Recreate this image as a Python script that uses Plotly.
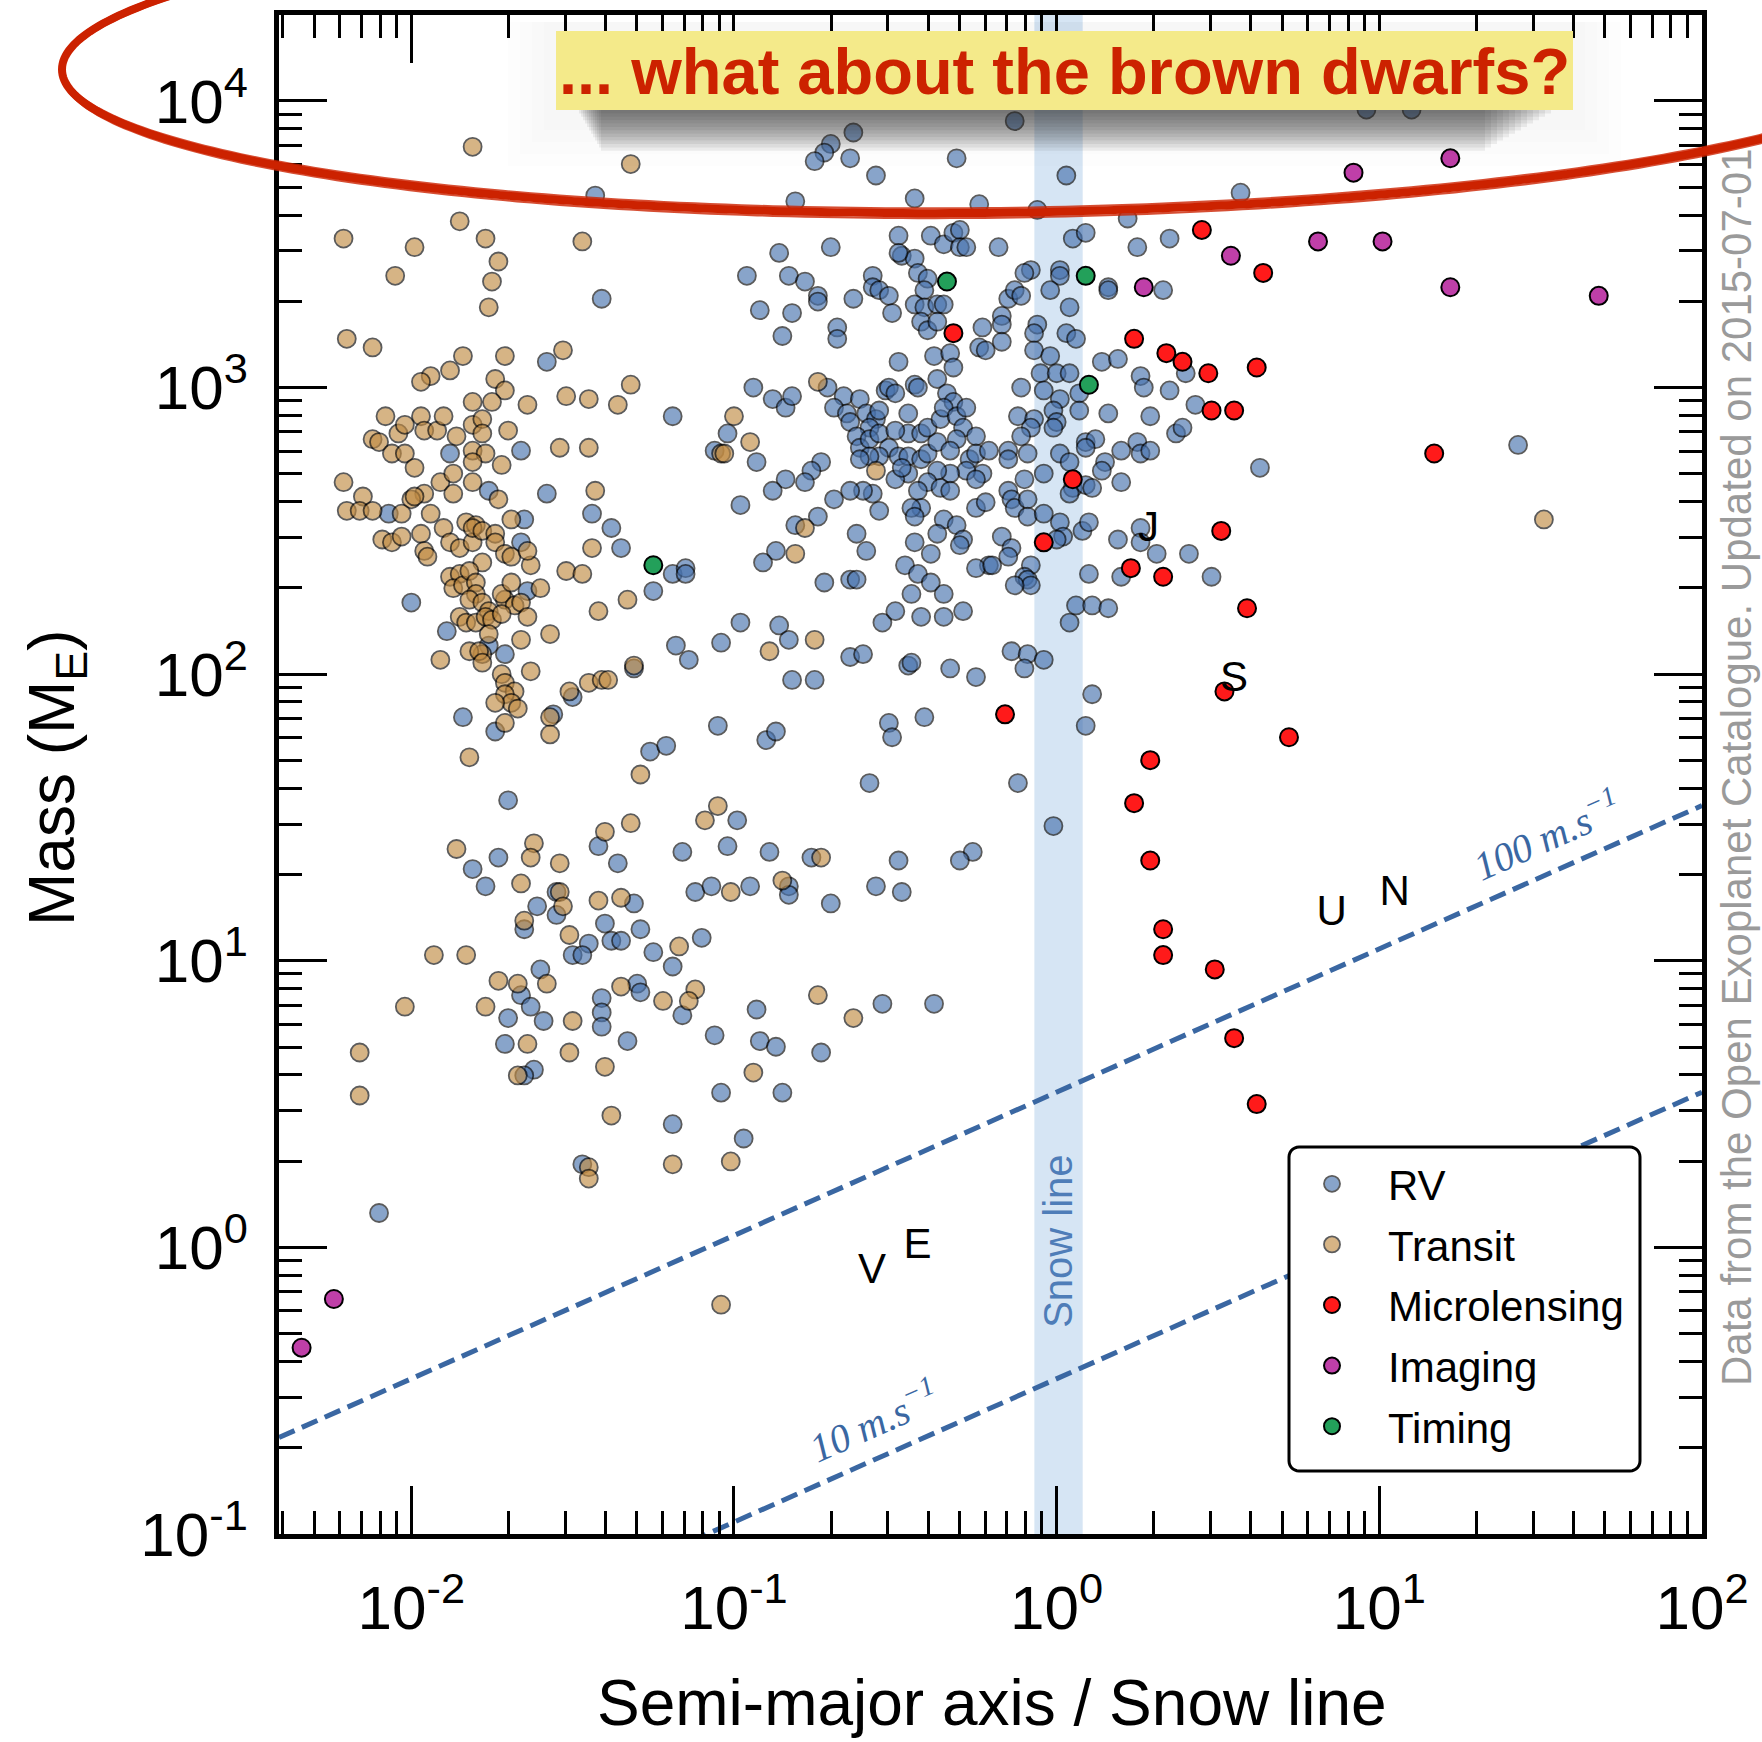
import numpy as np
import plotly.graph_objects as go

# ---------------------------------------------------------------------------
# Detected planets, one tuple per planet:
# (log10 of semi-major axis / snow line, log10 of mass in Earth masses)
# ---------------------------------------------------------------------------
rv_points = [
    (-1.43, 3.67), (-1.41, 3.31), (-1.58, 3.09), (-1.19, 2.90), (-1.66, 2.78), (-1.88, 2.77),
    (-1.06, 2.78), (-1.58, 2.63), (-1.44, 2.56), (-1.76, 2.64),
    (-1.66, 2.46), (-1.65, 2.54), (-1.64, 2.29), (-1.76, 2.10), (-1.71, 2.07), (-1.89, 2.15),
    (-1.84, 1.85), (-1.74, 1.80), (-1.56, 1.86), (-1.50, 1.92), (-2.00, 2.25), (-2.07, 2.56),
    (-1.38, 2.51), (-1.35, 2.44), (-1.19, 2.35), (-1.15, 2.37), (-1.15, 2.35), (-1.25, 2.29),
    (-0.54, 2.18), (-0.42, 2.20), (-0.35, 2.20), (-0.29, 2.22), (-0.50, 2.22), (-0.86, 2.17),
    (-0.83, 2.12), (-0.98, 2.18), (-1.04, 2.11), (-1.18, 2.10), (-1.14, 2.05), (-1.31, 2.02),
    (-0.64, 2.06), (-0.60, 2.07), (-0.46, 2.03), (-0.45, 2.04), (-0.33, 2.02), (-0.25, 1.99),
    (-0.82, 1.98), (-0.75, 1.98), (-1.05, 1.82), (-0.90, 1.77), (-0.87, 1.80), (-1.26, 1.73),
    (-1.21, 1.75), (-0.52, 1.83), (-0.51, 1.78), (-0.41, 1.85),
    (-1.70, 1.56), (-0.58, 1.62), (-0.99, 1.49), (-1.81, 1.32), (-1.77, 1.26), (-1.73, 1.36),
    (-1.42, 1.40), (-1.36, 1.34), (-1.16, 1.38), (-1.02, 1.40), (-0.89, 1.38), (-0.76, 1.36),
    (-0.49, 1.35), (-1.12, 1.24), (-1.07, 1.26), (-0.95, 1.26), (-0.83, 1.26), (-0.83, 1.23),
    (-0.70, 1.20), (-0.56, 1.26), (-0.48, 1.24), (-1.55, 1.24), (-1.61, 1.19), (-1.55, 1.16),
    (-1.65, 1.11), (-1.31, 1.20), (-1.40, 1.13), (-1.38, 1.07), (-1.35, 1.07), (-1.29, 1.11),
    (-1.45, 1.06), (-1.50, 1.02), (-1.47, 1.02), (-1.25, 1.03), (-1.10, 1.08), (-1.19, 0.98),
    (-1.60, 0.97), (-1.66, 0.88), (-1.63, 0.84), (-1.70, 0.80), (-1.59, 0.79), (-1.41, 0.87),
    (-1.41, 0.82), (-1.41, 0.77), (-1.30, 0.92), (-1.29, 0.89), (-1.16, 0.81), (-1.33, 0.72),
    (-1.06, 0.74), (-0.54, 0.85), (-0.93, 0.83), (-0.92, 0.72), (-0.87, 0.70), (-0.73, 0.68),
    (-1.04, 0.54), (-0.85, 0.54), (-1.71, 0.71), (-1.62, 0.62), (-1.65, 0.60), (-1.19, 0.43),
    (-0.97, 0.38), (-1.47, 0.29),
    (-0.26, 1.38), (-0.30, 1.35), (-0.38, 0.85), (-0.01, 1.47), (-0.12, 1.62), (-2.10, 0.12),
    (-0.14, 2.08), (-0.09, 2.07), (-0.10, 2.02), (-0.04, 2.05), (0.04, 2.18), (0.11, 1.93),
    (0.09, 1.82), (0.06, 2.24), (0.11, 2.24), (0.16, 2.23), (0.96, 3.97), (1.10, 3.97),
    (-0.63, 3.89), (-0.70, 3.85), (-0.72, 3.82), (-0.75, 3.79), (-0.64, 3.80), (-0.56, 3.74),
    (-0.31, 3.80), (0.03, 3.74), (-0.13, 3.93),
    (-0.81, 3.65), (-0.44, 3.66), (-0.24, 3.64), (-0.06, 3.62), (0.22, 3.59),
    (-0.49, 3.53), (-0.39, 3.53), (-0.35, 3.50), (-0.32, 3.54), (-0.30, 3.55), (-0.30, 3.49),
    (-0.28, 3.49), (-0.18, 3.49), (0.05, 3.52), (0.09, 3.54), (0.25, 3.49), (0.35, 3.52),
    (-0.70, 3.49), (-0.86, 3.47), (-0.48, 3.46), (-0.44, 3.45), (-0.49, 3.47),
    (-0.96, 3.39), (-0.83, 3.39), (-0.78, 3.37), (-0.74, 3.32), (-0.74, 3.30),
    (-0.57, 3.39), (-0.57, 3.35), (-0.55, 3.34), (-0.52, 3.32), (-0.51, 3.26), (-0.63, 3.31),
    (-0.43, 3.40), (-0.40, 3.38), (-0.41, 3.34),
    (-0.44, 3.29), (-0.41, 3.28), (-0.37, 3.29), (-0.35, 3.29), (-0.42, 3.23), (-0.40, 3.20),
    (-0.37, 3.23), (-0.92, 3.27), (-0.82, 3.26), (-0.85, 3.18), (-0.68, 3.21), (-0.68, 3.17),
    (-0.49, 3.09), (-0.38, 3.11), (-0.33, 3.12), (-0.32, 3.07),
    (-0.23, 3.21), (-0.17, 3.25), (-0.17, 3.22), (-0.15, 3.31), (-0.13, 3.34), (-0.11, 3.32),
    (-0.08, 3.41), (-0.10, 3.40), (-0.24, 3.14), (-0.17, 3.16), (-0.22, 3.13),
    (0.01, 3.41), (0.01, 3.39), (-0.02, 3.34), (0.04, 3.28), (0.16, 3.35), (0.16, 3.34),
    (0.33, 3.34), (-0.06, 3.22), (-0.07, 3.19), (0.03, 3.19), (0.06, 3.17), (-0.07, 3.13),
    (-0.02, 3.11),
    (0.14, 3.09), (0.19, 3.10), (0.26, 3.04), (0.27, 3.00), (0.35, 2.99), (0.40, 3.05),
    (0.43, 2.94), (0.37, 2.84), (0.39, 2.86), (0.29, 2.90), (0.16, 2.91), (0.25, 2.81),
    (0.26, 2.77), (0.29, 2.78), (0.20, 2.78),
    (-0.05, 3.05), (0.00, 3.05), (0.04, 3.05), (-0.04, 2.99), (-0.11, 3.00), (0.07, 2.98),
    (0.01, 2.96), (-0.01, 2.92), (0.00, 2.88), (-0.01, 2.86), (0.07, 2.92), (-0.12, 2.90),
    (-0.07, 2.89), (-0.08, 2.86), (-0.11, 2.83), (0.09, 2.81), (0.12, 2.82), (0.09, 2.79),
    (-0.09, 2.77), (-0.15, 2.78), (-0.15, 2.75), (0.01, 2.77), (0.04, 2.74), (0.15, 2.74),
    (0.14, 2.71), (0.05, 2.65), (0.09, 2.66), (0.04, 2.63), (0.11, 2.65), (0.20, 2.67),
    (-0.04, 2.70), (-0.10, 2.68), (-0.15, 2.64), (-0.14, 2.61), (-0.13, 2.58), (-0.09, 2.61),
    (-0.09, 2.55), (-0.04, 2.56), (0.01, 2.53), (0.08, 2.50), (0.10, 2.53), (0.02, 2.48),
    (0.00, 2.47),
    (0.19, 2.47), (0.26, 2.51), (0.26, 2.46), (0.31, 2.42), (0.41, 2.42), (0.10, 2.35),
    (0.20, 2.34),
    (-0.17, 2.48), (-0.14, 2.44), (-0.15, 2.41), (-0.08, 2.38), (-0.10, 2.34), (-0.09, 2.33),
    (-0.08, 2.31), (-0.13, 2.31), (-0.21, 2.38), (-0.25, 2.37),
    (-0.94, 3.00), (-0.88, 2.96), (-0.84, 2.93), (-0.82, 2.97), (-0.93, 2.74), (-0.98, 2.59),
    (-1.02, 2.84),
    (-0.71, 3.00), (-0.66, 2.97), (-0.69, 2.93), (-0.65, 2.91), (-0.64, 2.88), (-0.61, 2.96),
    (-0.59, 2.91), (-0.56, 2.89), (-0.55, 2.92), (-0.58, 2.86), (-0.62, 2.83), (-0.61, 2.79),
    (-0.58, 2.82), (-0.55, 2.84), (-0.53, 2.99), (-0.52, 3.00), (-0.50, 2.98), (-0.46, 2.91),
    (-0.46, 2.84), (-0.50, 2.85), (-0.52, 2.79), (-0.55, 2.76), (-0.58, 2.76), (-0.61, 2.75),
    (-0.49, 2.76), (-0.46, 2.76), (-0.42, 2.75), (-0.40, 2.77), (-0.37, 2.81), (-0.42, 2.84),
    (-0.40, 2.86), (-0.36, 2.89), (-0.44, 3.01), (-0.43, 3.00), (-0.37, 3.03), (-0.34, 2.98),
    (-0.32, 2.95), (-0.35, 2.93), (-0.31, 2.90), (-0.28, 2.93), (-0.29, 2.86), (-0.25, 2.83),
    (-0.31, 2.82), (-0.33, 2.78), (-0.27, 2.75), (-0.25, 2.77), (-0.21, 2.78), (-0.23, 2.70),
    (-0.28, 2.71), (-0.33, 2.70), (-0.37, 2.71), (-0.40, 2.67), (-0.46, 2.70), (-0.50, 2.68),
    (-0.48, 2.72), (-0.57, 2.63), (-0.60, 2.64), (-0.64, 2.64), (-0.69, 2.61), (-0.73, 2.74),
    (-0.76, 2.71), (-0.78, 2.67), (-0.84, 2.68), (-0.88, 2.64), (-0.74, 2.55), (-0.81, 2.52),
    (-0.87, 2.43), (-0.91, 2.39), (-0.72, 2.32), (-0.62, 2.49), (-0.59, 2.43), (-0.64, 2.33),
    (-0.62, 2.33), (-0.55, 2.57), (-0.43, 2.64), (-0.42, 2.58), (-0.45, 2.58), (-0.44, 2.55),
    (-0.36, 2.65), (-0.33, 2.64), (-0.25, 2.58), (-0.22, 2.60), (-0.25, 2.68), (-0.35, 2.54),
    (-0.31, 2.52), (-0.37, 2.49), (-0.29, 2.47), (-0.30, 2.45), (-0.39, 2.42), (-0.44, 2.46),
    (-0.47, 2.38), (-0.43, 2.35), (-0.39, 2.32), (-0.45, 2.28), (-0.35, 2.28), (-0.20, 2.38),
    (0.57, 3.68), (0.63, 2.72), (1.43, 2.80), (0.48, 2.34),
]

transit_points = [
    (-1.81, 3.84), (-1.32, 3.78), (-2.21, 3.52), (-1.99, 3.49), (-1.85, 3.58), (-1.77, 3.52),
    (-1.73, 3.44), (-1.75, 3.37), (-1.76, 3.28), (-2.05, 3.39), (-1.47, 3.51),
    (-2.20, 3.17), (-2.12, 3.14), (-1.84, 3.11), (-1.71, 3.11), (-1.53, 3.13), (-1.88, 3.06),
    (-1.94, 3.04), (-1.97, 3.02), (-1.74, 3.03), (-1.71, 2.99), (-1.81, 2.95), (-1.75, 2.95),
    (-1.64, 2.94), (-1.52, 2.97), (-1.45, 2.96), (-1.36, 2.94), (-1.32, 3.01), (-1.54, 2.79),
    (-1.45, 2.79), (-1.04, 2.77), (-1.43, 2.64),
    (-2.08, 2.90), (-2.12, 2.82), (-2.10, 2.81), (-2.06, 2.77), (-2.04, 2.84), (-2.02, 2.87),
    (-1.97, 2.90), (-1.96, 2.85), (-1.92, 2.85), (-1.90, 2.90), (-1.86, 2.83), (-1.81, 2.87),
    (-1.78, 2.89), (-1.78, 2.84), (-1.81, 2.78), (-1.77, 2.77), (-1.72, 2.73), (-1.81, 2.74),
    (-1.70, 2.85), (-2.02, 2.77), (-1.99, 2.72), (-2.21, 2.67), (-2.15, 2.62), (-1.91, 2.67),
    (-1.87, 2.70), (-1.81, 2.67), (-1.87, 2.63), (-1.96, 2.63), (-2.00, 2.61), (-2.20, 2.57),
    (-1.73, 2.61),
    (-2.16, 2.57), (-2.12, 2.57), (-2.03, 2.56), (-1.99, 2.62), (-1.94, 2.56), (-1.83, 2.53),
    (-1.80, 2.52),
    (-2.09, 2.47), (-2.06, 2.46), (-2.03, 2.48), (-1.97, 2.49), (-1.96, 2.43), (-1.95, 2.41),
    (-1.90, 2.51), (-1.88, 2.46), (-1.85, 2.44), (-1.81, 2.46), (-1.81, 2.51), (-1.78, 2.50),
    (-1.74, 2.49), (-1.74, 2.46), (-1.71, 2.42), (-1.69, 2.41), (-1.78, 2.39), (-1.63, 2.38),
    (-1.64, 2.43), (-1.69, 2.54), (-1.88, 2.34), (-1.85, 2.35), (-1.87, 2.30), (-1.84, 2.31),
    (-1.82, 2.36), (-1.80, 2.32), (-1.80, 2.28), (-1.82, 2.26), (-1.78, 2.25), (-1.76, 2.22),
    (-1.71, 2.26), (-1.72, 2.28), (-1.69, 2.32), (-1.68, 2.24), (-1.66, 2.25), (-1.64, 2.20),
    (-1.60, 2.30), (-1.85, 2.20), (-1.83, 2.18), (-1.80, 2.18), (-1.77, 2.20), (-1.75, 2.19),
    (-1.72, 2.21), (-1.76, 2.14), (-1.78, 2.07), (-1.82, 2.08), (-1.79, 2.08), (-1.66, 2.12),
    (-1.57, 2.14), (-1.91, 2.05), (-1.78, 2.04), (-1.72, 2.00), (-1.71, 1.97), (-1.68, 1.94),
    (-1.71, 1.93), (-1.69, 1.90), (-1.74, 1.90), (-1.67, 1.88), (-1.71, 1.83), (-1.63, 2.01),
    (-1.82, 1.71), (-1.57, 1.85), (-1.57, 1.79), (-1.51, 1.94), (-1.45, 1.97), (-1.44, 2.44),
    (-1.52, 2.36), (-1.47, 2.35), (-1.42, 2.22), (-1.41, 1.98),
    (-1.33, 2.26), (-0.75, 2.12), (-0.89, 2.08), (-1.31, 2.03), (-1.39, 1.98),
    (-0.74, 3.02), (-1.00, 2.90), (-0.95, 2.81), (-1.03, 2.77), (-0.56, 2.71), (-0.78, 2.51),
    (-0.81, 2.42), (1.51, 2.54),
    (-1.29, 1.65), (-1.05, 1.54), (-1.09, 1.49), (-1.86, 1.39), (-1.62, 1.41), (-1.63, 1.36),
    (-1.66, 1.27), (-1.54, 1.34), (-1.40, 1.45), (-1.32, 1.48), (-0.73, 1.36), (-1.01, 1.24),
    (-0.85, 1.28), (-1.54, 1.24), (-1.53, 1.19), (-1.65, 1.14), (-1.42, 1.21), (-1.35, 1.22),
    (-1.51, 1.09), (-1.17, 1.05), (-1.93, 1.02), (-1.83, 1.02), (-2.02, 0.84), (-1.73, 0.93),
    (-1.67, 0.92), (-1.58, 0.92), (-1.77, 0.84), (-1.50, 0.79), (-1.35, 0.91), (-1.22, 0.86),
    (-1.12, 0.90), (-1.14, 0.86), (-0.74, 0.88), (-0.63, 0.80), (-0.94, 0.61), (-1.64, 0.71),
    (-1.51, 0.68), (-1.40, 0.63), (-1.67, 0.60), (-1.38, 0.46), (-1.19, 0.29), (-1.01, 0.30),
    (-1.45, 0.28), (-1.45, 0.24),
    (-2.16, 0.68), (-2.16, 0.53), (-1.04, -0.20),
]

microlensing_points = [
    (-0.32, 3.19), (0.05, 2.68), (-0.04, 2.46), (0.24, 3.17), (0.34, 3.12), (0.39, 3.09),
    (0.47, 3.05), (0.48, 2.92), (0.55, 2.92), (0.62, 3.07), (0.45, 3.55), (0.64, 3.40),
    (1.17, 2.77), (0.51, 2.50), (0.23, 2.37), (0.33, 2.34), (0.59, 2.23), (-0.16, 1.86),
    (0.52, 1.94), (0.72, 1.78), (0.29, 1.70), (0.24, 1.55), (0.29, 1.35), (0.33, 1.11),
    (0.33, 1.02), (0.49, 0.97), (0.55, 0.73), (0.62, 0.50),
]

imaging_points = [
    (-2.34, -0.35), (-2.24, -0.18), (0.27, 3.35), (0.54, 3.46), (0.81, 3.51), (1.01, 3.51),
    (0.92, 3.75), (1.22, 3.80), (1.22, 3.35), (1.68, 3.32),
]

timing_points = [(-0.34, 3.37), (0.09, 3.39), (0.10, 3.01), (-1.25, 2.38)]

# Solar-system planets (a in AU, mass in Earth masses)
planet_labels = ["V", "E", "J", "S", "U", "N"]
planet_a_au = [0.723, 1.0, 5.20, 9.58, 19.2, 30.1]
planet_mass_earth = [0.815, 1.0, 317.8, 95.2, 14.5, 17.1]
snow_line_au = 2.7

# Radial-velocity semi-amplitude limits, M = k * K * sqrt(a / a_snow)
rv_amplitudes_ms = [10, 100]
rv_mass_per_ms_at_snow_line = 0.0348
rv_label_a = [0.27, 33.0]

snow_band = [0.853, 1.204]

x_tick_vals = [0.01, 0.1, 1, 10, 100]
x_tick_text = ["10<sup>-2</sup>", "10<sup>-1</sup>", "10<sup>0</sup>", "10<sup>1</sup>", "10<sup>2</sup>"]
y_tick_vals = [0.1, 1, 10, 100, 1000, 10000]
y_tick_text = ["10<sup>-1</sup>", "10<sup>0</sup>", "10<sup>1</sup>", "10<sup>2</sup>",
               "10<sup>3</sup>", "10<sup>4</sup>"]

# ---------------------------------------------------------------------------
# Layout geometry (pixels)
# ---------------------------------------------------------------------------
FIG_W, FIG_H = 1762, 1742
M_L, M_R, M_T, M_B = 279, 60, 15, 208
PLOT_W = FIG_W - M_L - M_R
PLOT_H = FIG_H - M_T - M_B
X_RANGE = [np.log10(0.00389), 2.0]
Y_RANGE = [-1.0, 4.3]
FONT = "Liberation Sans, Arial, Helvetica, sans-serif"


def to_paper(px, py):
    px = np.asarray(px, dtype=float)
    py = np.asarray(py, dtype=float)
    return (px - M_L) / PLOT_W, (FIG_H - M_B - py) / PLOT_H


def path_from_pixels(px, py, close=True):
    xs, ys = to_paper(px, py)
    pts = " L ".join(f"{x:.5f},{y:.5f}" for x, y in zip(xs, ys))
    return "M " + pts + (" Z" if close else "")


def rounded_rect(x0, y0, x1, y1, r, n=8):
    px, py = [], []
    corners = [(x1 - r, y0 + r, -90, 0), (x1 - r, y1 - r, 0, 90),
               (x0 + r, y1 - r, 90, 180), (x0 + r, y0 + r, 180, 270)]
    for cx, cy, a0, a1 in corners:
        ang = np.radians(np.linspace(a0, a1, n))
        px.extend(cx + r * np.cos(ang))
        py.extend(cy + r * np.sin(ang))
    return path_from_pixels(px, py)


def unpack(points):
    lx, ly = zip(*points)
    return 10 ** np.array(lx), 10 ** np.array(ly)


def centered(**kw):
    base = dict(showarrow=False, xanchor="center", yanchor="middle")
    base.update(kw)
    return base


fig = go.Figure()

methods = [
    ("RV", rv_points, "#4671ad", 0.64, 1.8),
    ("Transit", transit_points, "#c08a42", 0.64, 1.8),
    ("Microlensing", microlensing_points, "#ff1a1a", 1.0, 2.0),
    ("Imaging", imaging_points, "#bf3fa8", 1.0, 2.0),
    ("Timing", timing_points, "#23a05a", 1.0, 2.0),
]
for name, pts, color, alpha, lw in methods:
    x, y = unpack(pts)
    fig.add_trace(go.Scatter(
        x=x, y=y, mode="markers", name=name, legendgroup=name,
        marker=dict(size=18, color=color, opacity=alpha,
                    line=dict(color="black", width=lw)),
    ))

# RV sensitivity lines
a_line = np.array([10 ** X_RANGE[0], 10 ** X_RANGE[1]])
for K in rv_amplitudes_ms:
    fig.add_trace(go.Scatter(
        x=a_line, y=rv_mass_per_ms_at_snow_line * K * np.sqrt(a_line),
        mode="lines", showlegend=False, hoverinfo="skip",
        line=dict(color="#3a67a2", width=5, dash="17px,8px"),
    ))

# Solar-system letters
fig.add_trace(go.Scatter(
    x=np.array(planet_a_au) / snow_line_au, y=planet_mass_earth,
    mode="text", text=planet_labels, showlegend=False, hoverinfo="skip",
    textfont=dict(family=FONT, size=42, color="black"),
))

shapes = []
annotations = []

# Snow line band
shapes.append(dict(type="rect", xref="x", yref="paper", x0=snow_band[0], x1=snow_band[1],
                   y0=0, y1=1, fillcolor="#d6e5f4", line=dict(width=0), layer="below"))
annotations.append(centered(
    x=np.log10(np.sqrt(snow_band[0] * snow_band[1])), y=np.log10(1.05), xref="x", yref="y",
    text="Snow line", textangle=-90,
    font=dict(family=FONT, size=40, color="#4f7db8"),
))

# RV line labels, rotated along the lines
x_dec_px = PLOT_W / (X_RANGE[1] - X_RANGE[0])
y_dec_px = PLOT_H / (Y_RANGE[1] - Y_RANGE[0])
line_angle = np.degrees(np.arctan(0.5 * y_dec_px / x_dec_px))
for K, a_lab in zip(rv_amplitudes_ms, rv_label_a):
    m_lab = rv_mass_per_ms_at_snow_line * K * np.sqrt(a_lab) * 1.38
    annotations.append(centered(
        x=np.log10(a_lab), y=np.log10(m_lab), xref="x", yref="y",
        text=f"<i>{K} m.s<sup>\u22121</sup></i>", textangle=-line_angle,
        font=dict(family="Liberation Serif, Times New Roman, serif", size=40, color="#3a67a2"),
    ))

# Axis titles
tx, ty = to_paper(992, 1703)
annotations.append(centered(x=float(tx), y=float(ty), xref="paper", yref="paper",
                            text="Semi-major axis / Snow line",
                            font=dict(family=FONT, size=64, color="black")))
tx, ty = to_paper(56, 778)
annotations.append(centered(x=float(tx), y=float(ty), xref="paper", yref="paper",
                            text="Mass (M<sub>E</sub>)", textangle=-90,
                            font=dict(family=FONT, size=64, color="black")))

# Source note along the right edge
tx, ty = to_paper(1736, 767)
annotations.append(centered(x=float(tx), y=float(ty), xref="paper", yref="paper",
                            text="Data from the Open Exoplanet Catalogue. Updated on 2015-07-01",
                            textangle=-90,
                            font=dict(family=FONT, size=42, color="#9a9a9a")))

# Legend frame
shapes.append(dict(type="path", xref="paper", yref="paper",
                   path=rounded_rect(1289, 1147, 1640, 1471, 10),
                   fillcolor="white", line=dict(color="black", width=3), layer="above"))

# Banner: soft haze, drop shadow, yellow box and text
for i in range(4):
    g = 12 * (4 - i)
    bx0, by0 = to_paper(556 - g, 22)
    bx1, by1 = to_paper(1573 + g, 118 + g)
    shapes.append(dict(type="rect", xref="paper", yref="paper", x0=float(bx0), x1=float(bx1),
                       y0=float(by0), y1=float(by1), fillcolor="rgba(0,0,0,0.007)",
                       line=dict(width=0), layer="above"))
for i in range(12):
    sx0, sy0 = to_paper(579 + 2 * i, 104)
    sx1, sy1 = to_paper(1551 - 6 * i, 110 + 3.4 * (i + 1))
    shapes.append(dict(type="rect", xref="paper", yref="paper", x0=float(sx0), x1=float(sx1),
                       y0=float(sy0), y1=float(sy1), fillcolor="rgba(40,40,40,0.075)",
                       line=dict(width=0), layer="above"))
bx0, by0 = to_paper(556, 31)
bx1, by1 = to_paper(1573, 110)
shapes.append(dict(type="rect", xref="paper", yref="paper", x0=float(bx0), x1=float(bx1),
                   y0=float(by0), y1=float(by1), fillcolor="#f4ea8a",
                   line=dict(width=0), layer="above"))
tx, ty = to_paper(1064, 72)
annotations.append(centered(x=float(tx), y=float(ty), xref="paper", yref="paper",
                            text="<b>... what about the brown dwarfs?</b>",
                            font=dict(family=FONT, size=65, color="#cc2200")))

# Hand-drawn red ellipse around the top of the diagram
t = np.linspace(0, 2 * np.pi, 361)
for dcy, db, width, alpha in [(0.0, 0.0, 8.0, 1.0), (-3.2, -1.5, 2.2, 0.8), (3.4, 1.5, 2.2, 0.8)]:
    ex = 1000 + 938 * np.cos(t)
    ey = 57.7 + dcy + (155 + db) * np.sin(t) - 0.0125 * 938 * np.cos(t)
    shapes.append(dict(type="path", xref="paper", yref="paper", path=path_from_pixels(ex, ey),
                       line=dict(color=f"rgba(204,34,0,{alpha})", width=width),
                       fillcolor="rgba(0,0,0,0)", layer="above"))

x_minor = [k * 10.0 ** n for n in range(-3, 2) for k in range(2, 10)]
y_minor = [k * 10.0 ** n for n in range(-1, 5) for k in range(2, 10)]
axis_common = dict(
    type="log", showgrid=False, zeroline=False, showline=True, linewidth=4.5, linecolor="black",
    mirror="allticks", ticks="inside", ticklen=48, tickwidth=3, tickcolor="black",
    tickfont=dict(family=FONT, size=62, color="black"), tickmode="array",
)
fig.update_xaxes(**axis_common, range=X_RANGE, tickvals=x_tick_vals, ticktext=x_tick_text,
                 ticklabelstandoff=16,
                 minor=dict(ticks="inside", ticklen=23, tickwidth=3, tickcolor="black",
                            tickvals=x_minor, showgrid=False))
fig.update_yaxes(**axis_common, range=Y_RANGE, tickvals=y_tick_vals, ticktext=y_tick_text,
                 ticklabelstandoff=14,
                 minor=dict(ticks="inside", ticklen=23, tickwidth=3, tickcolor="black",
                            tickvals=y_minor, showgrid=False))

lx, ly = to_paper(1276, 1150)
fig.update_layout(
    width=FIG_W, height=FIG_H,
    margin=dict(l=M_L, r=M_R, t=M_T, b=M_B, autoexpand=False),
    paper_bgcolor="white", plot_bgcolor="white",
    font=dict(family=FONT, color="black"),
    shapes=shapes, annotations=annotations,
    legend=dict(x=float(lx), y=float(ly), xanchor="left", yanchor="top",
                bgcolor="rgba(0,0,0,0)", borderwidth=0, itemwidth=102,
                font=dict(family=FONT, size=42, color="black"), tracegroupgap=3),
)

fig.write_html("out.html")
